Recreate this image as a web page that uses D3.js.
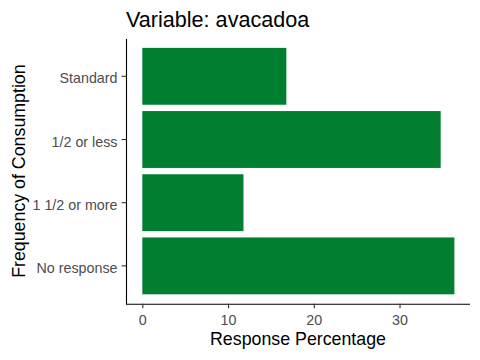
<!DOCTYPE html>
<html><head><meta charset="utf-8">
<script src="https://cdn.jsdelivr.net/npm/d3@7"></script>
<style>body{margin:0;background:#fff}svg{display:block}text{font-family:"Liberation Sans",Arial,sans-serif}</style>
</head><body>
<script>
const categories = ["Standard", "1/2 or less", "1 1/2 or more", "No response"];
const values = [16.8, 34.8, 11.8, 36.4];
const xTicks = [0, 10, 20, 30];
const title = "Variable: avacadoa";
const xTitle = "Response Percentage";
const yTitle = "Frequency of Consumption";

const W = 480, H = 360;
const panel = {left: 126, right: 470, top: 38.4, bottom: 303.8};
const svg = d3.select("body").append("svg").attr("width", W).attr("height", H);

const maxV = d3.max(values);
const x = d3.scaleLinear().domain([-0.05 * maxV, maxV * 1.05]).range([panel.left + 0.7, panel.right]);
const y = d3.scaleBand().domain(categories).range([panel.top, panel.bottom]).paddingInner(0.1).paddingOuter(0.15);

svg.append("g").selectAll("rect").data(categories).join("rect")
  .attr("x", x(0)).attr("y", d => y(d))
  .attr("width", (d, i) => x(values[i]) - x(0))
  .attr("height", y.bandwidth())
  .attr("fill", "#007f31");

const xAxis = svg.append("g").attr("transform", `translate(0,${panel.bottom})`)
  .call(d3.axisBottom(x).tickValues(xTicks).tickSize(4.5).tickPadding(6.5).tickSizeOuter(0));
xAxis.select(".domain").attr("d", `M${panel.left},0.5H${panel.right}`);
const yAxis = svg.append("g").attr("transform", `translate(${panel.left},0)`)
  .call(d3.axisLeft(y).tickSize(4.5).tickPadding(4).tickSizeOuter(0));
[xAxis, yAxis].forEach(a => {
  a.select(".domain").attr("stroke", "#000").attr("stroke-width", 1.1);
  a.selectAll(".tick line").attr("stroke", "#333").attr("stroke-width", 1.1);
  a.selectAll(".tick text").attr("fill", "#4d4d4d").style("font-size", "14.3px");
});
yAxis.selectAll(".tick text").attr("dy", "0.5em");

svg.append("text").attr("x", panel.left).attr("y", 27).text(title)
  .style("font-size", "21.6px").attr("fill", "#000");
svg.append("text").attr("x", (panel.left + panel.right) / 2).attr("y", 345)
  .attr("text-anchor", "middle").text(xTitle).style("font-size", "17.8px").attr("fill", "#000");
svg.append("text").attr("transform", `translate(25,${(panel.top + panel.bottom) / 2}) rotate(-90)`)
  .attr("text-anchor", "middle").text(yTitle).style("font-size", "17.8px").attr("fill", "#000");
</script>
</body></html>
